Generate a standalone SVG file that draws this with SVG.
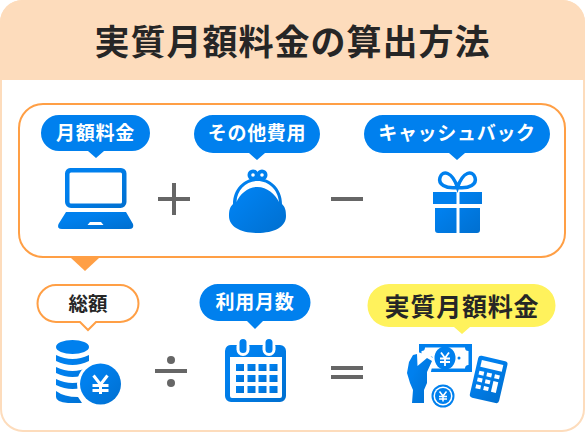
<svg xmlns="http://www.w3.org/2000/svg" width="585" height="432" viewBox="0 0 585 432">
<defs>
<linearGradient id="g" x1="0" y1="0" x2="1" y2="1"><stop offset="0.3" stop-color="#0080ee"/><stop offset="1" stop-color="#006fcf"/></linearGradient>
<style>
text{font-family:"Noto Sans CJK JP","Noto Sans",sans-serif;font-weight:700;text-anchor:middle}
.w{fill:#fff;font-size:19px;letter-spacing:.7px}
.k{fill:#262626}
.b{fill:#0080ee}
.i{fill:url(#g)}
.op{fill:#666}
</style>
</defs>
<rect width="585" height="432" fill="#fff"/>
<g id="panel">
<rect x="1" y="1" width="583" height="430" rx="22" fill="#fff" stroke="#fddcbc" stroke-width="2"/>
<path d="M0 80V22A22 22 0 0 1 22 0H563A22 22 0 0 1 585 22V80Z" fill="#fddcbc"/>
<text x="292.500" y="55" class="k" style="font-size:35px;letter-spacing:1px">実質月額料金の算出方法</text>
</g>
<g id="connectors">
<rect x="19" y="104" width="546" height="153" rx="24" fill="none" stroke="#ff9f45" stroke-width="2"/>
<path d="M71 258H99L85 271Z" fill="#ff9f45"/>
<g class="op">
<rect x="158" y="197" width="32" height="4"/><rect x="172" y="183" width="4" height="32"/>
<rect x="331" y="197" width="32" height="4"/>
<rect x="155" y="369" width="32" height="4"/><circle cx="171" cy="360" r="4"/><circle cx="171" cy="383" r="4"/>
<rect x="331" y="366" width="32" height="4"/><rect x="331" y="375" width="32" height="4"/>
</g>
</g>
<g id="node-monthly">
<path class="b" d="M59 115H132A18 18 0 0 1 132 151H104L96 158L88 151H59A18 18 0 0 1 59 115Z"/>
<text x="95.500" y="140" class="w">月額料金</text>
<path class="i" fill-rule="evenodd" d="M70 168H121A5.500 5.500 0 0 1 126.500 173.500V202A6 6 0 0 1 120.500 208H71A6 6 0 0 1 65 202V173.500A5.500 5.500 0 0 1 70 168ZM71 172.500A1.500 1.500 0 0 0 69.500 174V202A1.500 1.500 0 0 0 71 203.500H120.500A1.500 1.500 0 0 0 122 202V174A1.500 1.500 0 0 0 120.500 172.500Z"/>
<path class="i" fill-rule="evenodd" d="M66 212H126L133 224Q134.500 229 129 229H62Q56.500 229 58.500 224ZM90 222L87.500 225H103.500L101 222Z"/>
</g>
<g id="node-other">
<path class="b" d="M213 115H301A19 19 0 0 1 301 153H265L257 160L249 153H213A19 19 0 0 1 213 115Z"/>
<text x="257" y="140" class="w">その他費用</text>
<circle cx="253" cy="175" r="5.500" class="b"/><circle cx="262" cy="175" r="5.500" class="b"/>
<circle cx="253" cy="175" r="1.800" fill="#fff"/><circle cx="262" cy="175" r="1.800" fill="#fff"/>
<path class="i" fill-rule="evenodd" d="M257.500 178C270 178 282 188 282 204C285 207 286 210 286 216C286 227 274 233 257.500 233C241 233 229 227 229 216C229 210 230 207 233 204C233 188 245 178 257.500 178ZM257.500 181C246 181 237 190 236.500 202C240 194 248 187 257.500 187C267 187 275 194 279 202C278 190 269 181 257.500 181Z"/>
</g>
<g id="node-cashback">
<path class="b" d="M383 115H531A19 19 0 0 1 531 153H465L457 160L449 153H383A19 19 0 0 1 383 115Z"/>
<text x="457" y="140" class="w">キャッシュバック</text>
<path fill="none" stroke="#0080ee" stroke-width="3.500" d="M457.500 187.500C445 189 438 184 440 177.500C442.500 170 452 171 457.500 187.500C463 171 472.500 170 475 177.500C477 184 470 189 457.500 187.500Z"/>
<path class="i" d="M433 192H456.500V204H433ZM459.500 192H482V204H459.500ZM435 208H456.500V233H438A3 3 0 0 1 435 230ZM459.500 208H480V230A3 3 0 0 1 477 233H459.500Z"/>
</g>
<g id="node-total">
<path fill="#fff" stroke="#ff9f45" stroke-width="2" d="M56 285H120A18 18 0 0 1 120 322H96L88 330L80 322H56A18 18 0 0 1 56 285Z"/>
<text x="88" y="311" class="k" style="font-size:19.500px">総額</text>
<ellipse cx="72.500" cy="347" rx="16.500" ry="7" class="b"/>
<path class="i" d="M56 355Q72.500 363 89 355V361Q72.500 369 56 361ZM56 367Q72.500 375 89 367V373Q72.500 381 56 373ZM56 379Q72.500 387 89 379V385Q72.500 393 56 385ZM56 391Q64 397 78 397L82 403H68Q56 402 56 397Z"/>
<circle cx="100.500" cy="384" r="23.500" fill="#fff"/>
<circle cx="100.500" cy="384" r="20.500" class="i"/>
<path fill="none" stroke="#fff" stroke-width="3" d="M93.500 375.500L100.500 384.500L107.500 375.500M92.500 385.500H108.500M92.500 390.500H108.500M100.500 384V394"/>
</g>
<g id="node-months">
<path class="b" d="M218 284H292A18.500 18.500 0 0 1 292 321H263L255 329L247 321H218A18.500 18.500 0 0 1 218 284Z"/>
<text x="255" y="309" class="w">利用月数</text>
<path class="i" fill-rule="evenodd" d="M232 345H280A6 6 0 0 1 286 351V396A6 6 0 0 1 280 402H231A6 6 0 0 1 225 396V351A6 6 0 0 1 232 345ZM230 357V396A2 2 0 0 0 232 398H280A2 2 0 0 0 282 396V357Z"/>
<rect x="236.500" y="340" width="13" height="16" rx="6.500" fill="#fff"/><rect x="262.500" y="340" width="13" height="16" rx="6.500" fill="#fff"/>
<rect x="239.500" y="339" width="7" height="14" rx="3.500" class="b"/><rect x="265.500" y="339" width="7" height="14" rx="3.500" class="b"/>
<g class="i"><rect x="236" y="364" width="8" height="7"/><rect x="247.500" y="364" width="8" height="7"/><rect x="258.500" y="364" width="8" height="7"/><rect x="269.500" y="364" width="8" height="7"/><rect x="236" y="375" width="8" height="7"/><rect x="247.500" y="375" width="8" height="7"/><rect x="258.500" y="375" width="8" height="7"/><rect x="269.500" y="375" width="8" height="7"/><rect x="236" y="386" width="8" height="7"/><rect x="247.500" y="386" width="8" height="7"/><rect x="258.500" y="386" width="8" height="7"/><rect x="269.500" y="386" width="8" height="7"/></g>
</g>
<g id="node-effective">
<path fill="#fff25c" d="M389 284H534A21.500 21.500 0 0 1 534 327H470L462 334L454 327H389A21.500 21.500 0 0 1 389 284Z"/>
<text x="462" y="316" class="k" style="font-size:25px;letter-spacing:.8px">実質月額料金</text>
<rect x="419" y="344" width="53" height="28" class="b"/>
<path fill="#fff" d="M425 347.500H465Q465 351 468.500 351V365Q465 365 465 368.500H425Q425 365 421.500 365V351Q425 351 425 347.500Z"/>
<ellipse cx="445" cy="358" rx="10.500" ry="11.500" class="b"/>
<path fill="none" stroke="#fff" stroke-width="1.800" d="M441 352.500L445 358L449 352.500M440 358.500H450M440 362H450M445 358V366"/>
<circle cx="431.500" cy="358" r="1.500" class="b"/><circle cx="459" cy="358" r="1.500" class="b"/>
<path fill="#fff" d="M418 352L434 358L430 376H418Z"/>
<path class="i" d="M413 355L417 354L417.500 366L427 358L432 361L427 372L427 383L424 390L424 403H412L413 390L410 383L407 373L409 362Z"/>
<circle cx="443" cy="396" r="11.500" class="b"/><circle cx="443" cy="396" r="9.500" fill="#fff"/><circle cx="443" cy="396" r="8" class="b"/>
<path fill="none" stroke="#fff" stroke-width="1.500" d="M439.500 391.500L443 396L446.500 391.500M439 396.500H447M439 399H447M443 396V401.500"/>
<g transform="rotate(13 489 378)">
<rect x="474" y="358" width="30" height="43" rx="3" class="i"/>
<rect x="478" y="362" width="22" height="7" fill="#fff"/>
<g fill="#fff"><rect x="478" y="373" width="5" height="4"/><rect x="486" y="373" width="5" height="4"/><rect x="494" y="373" width="5" height="4"/><rect x="478" y="380" width="5" height="4"/><rect x="486" y="380" width="5" height="4"/><rect x="494" y="380" width="5" height="11"/><rect x="478" y="387" width="5" height="4"/><rect x="486" y="387" width="5" height="4"/></g>
</g>
</g>
</svg>
